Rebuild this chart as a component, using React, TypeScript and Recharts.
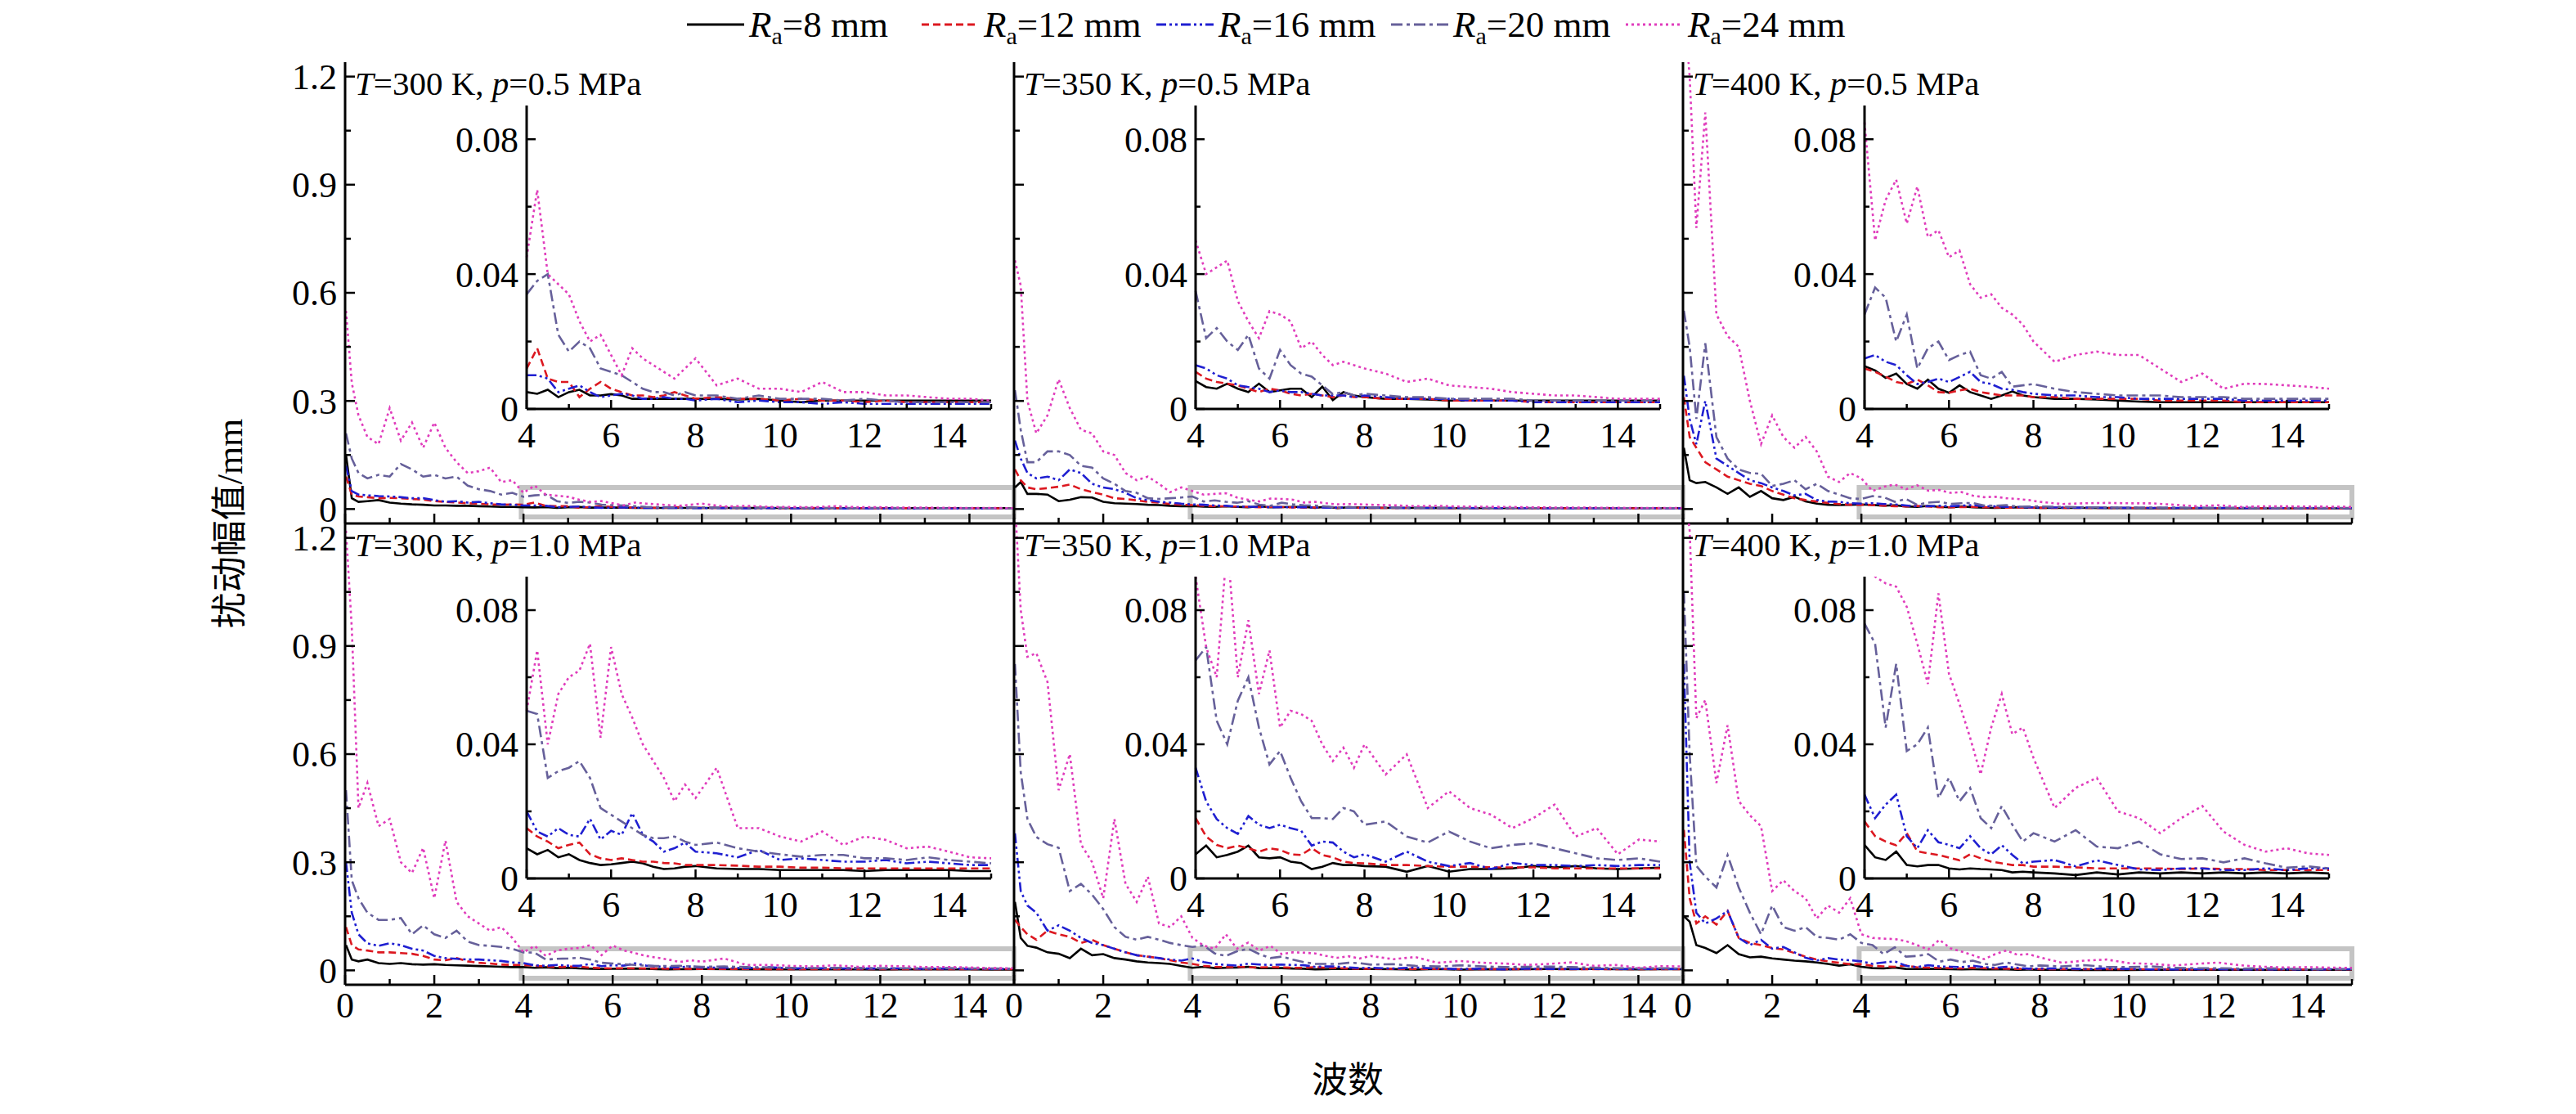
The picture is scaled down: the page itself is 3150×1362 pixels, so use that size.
import React from "react";
import { LineChart, Line, XAxis, YAxis, ReferenceArea } from "recharts";

// wave number grid shared by every curve
const waveNumber = [
  0.02, 0.15, 0.3, 0.5, 0.75, 1, 1.25, 1.5, 1.75, 2, 2.25, 2.5, 2.75, 3, 3.25, 3.5, 3.75,
  4, 4.25, 4.5, 4.75, 5, 5.25, 5.5, 5.75, 6, 6.25, 6.5, 6.75, 7, 7.25, 7.5, 7.75, 8,
  8.5, 9, 9.5, 10, 10.5, 11, 11.5, 12, 12.5, 13, 13.5, 14, 14.5, 15,
];

const roughness = [8, 12, 16, 20, 24];
const temperatures = [300, 350, 400];
const pressures = ["0.5", "1.0"];

const mainXTicks = [0, 1, 2, 3, 4, 5, 6, 7, 8, 9, 10, 11, 12, 13, 14, 15];
const mainYTicks = [0, 0.15, 0.3, 0.45, 0.6, 0.75, 0.9, 1.05, 1.2];
const insetXTicks = [4, 5, 6, 7, 8, 9, 10, 11, 12, 13, 14, 15];
const insetYTicks = [0, 0.02, 0.04, 0.06, 0.08];

// T=300 K, p=0.5 MPa
const t300p05R8 = [0.15, 0.03, 0.02, 0.022, 0.025, 0.018, 0.015, 0.013, 0.012, 0.01, 0.01, 0.009, 0.009, 0.008, 0.007, 0.006, 0.006, 0.005, 0.0045, 0.0057, 0.0035, 0.005, 0.0057, 0.004, 0.004, 0.0044, 0.004, 0.003, 0.003, 0.003, 0.003, 0.003, 0.003, 0.003, 0.003, 0.0028, 0.003, 0.0025, 0.002, 0.0025, 0.0025, 0.0025, 0.0025, 0.0025, 0.0025, 0.0025, 0.0025, 0.0025];
const t300p05R12 = [0.09, 0.04, 0.035, 0.033, 0.03, 0.031, 0.03, 0.028, 0.026, 0.022, 0.02, 0.018, 0.016, 0.015, 0.013, 0.012, 0.013, 0.012, 0.018, 0.009, 0.008, 0.008, 0.0035, 0.006, 0.008, 0.006, 0.005, 0.004, 0.004, 0.0035, 0.004, 0.005, 0.004, 0.003, 0.0035, 0.003, 0.003, 0.0025, 0.003, 0.0025, 0.0025, 0.002, 0.0025, 0.002, 0.002, 0.002, 0.002, 0.002];
const t300p05R16 = [0.12, 0.05, 0.04, 0.038, 0.036, 0.035, 0.033, 0.03, 0.03, 0.025, 0.02, 0.022, 0.018, 0.02, 0.016, 0.013, 0.012, 0.01, 0.01, 0.009, 0.005, 0.006, 0.007, 0.005, 0.0035, 0.004, 0.0045, 0.004, 0.003, 0.003, 0.0035, 0.003, 0.003, 0.0025, 0.003, 0.002, 0.0025, 0.002, 0.002, 0.0015, 0.002, 0.0015, 0.0015, 0.0015, 0.0015, 0.0015, 0.0015, 0.0015];
const t300p05R20 = [0.21, 0.14, 0.1, 0.085, 0.095, 0.09, 0.125, 0.11, 0.09, 0.095, 0.085, 0.09, 0.065, 0.055, 0.05, 0.04, 0.045, 0.034, 0.038, 0.04, 0.022, 0.017, 0.02, 0.018, 0.012, 0.011, 0.01, 0.008, 0.006, 0.005, 0.005, 0.004, 0.005, 0.004, 0.004, 0.003, 0.004, 0.003, 0.003, 0.003, 0.0025, 0.003, 0.0025, 0.002, 0.002, 0.002, 0.002, 0.002];
const t300p05R24 = [0.55, 0.35, 0.26, 0.2, 0.18, 0.28, 0.19, 0.24, 0.17, 0.24, 0.17, 0.13, 0.1, 0.105, 0.115, 0.075, 0.08, 0.045, 0.065, 0.04, 0.037, 0.034, 0.026, 0.02, 0.022, 0.016, 0.01, 0.018, 0.015, 0.013, 0.011, 0.009, 0.012, 0.015, 0.007, 0.009, 0.006, 0.006, 0.005, 0.008, 0.005, 0.005, 0.004, 0.004, 0.0035, 0.003, 0.003, 0.0025];

// T=350 K, p=0.5 MPa
const t350p05R8 = [0.06, 0.075, 0.042, 0.042, 0.04, 0.022, 0.026, 0.033, 0.032, 0.02, 0.016, 0.015, 0.014, 0.012, 0.011, 0.009, 0.008, 0.0083, 0.0065, 0.006, 0.0075, 0.006, 0.005, 0.0075, 0.005, 0.0055, 0.006, 0.006, 0.0035, 0.0066, 0.0026, 0.005, 0.004, 0.0035, 0.003, 0.003, 0.0028, 0.0025, 0.0025, 0.0025, 0.0025, 0.0025, 0.0025, 0.0025, 0.0025, 0.0025, 0.0025, 0.0025];
const t350p05R12 = [0.11, 0.08, 0.06, 0.055, 0.058, 0.062, 0.068, 0.055, 0.047, 0.04, 0.03, 0.028, 0.024, 0.02, 0.018, 0.014, 0.012, 0.011, 0.009, 0.008, 0.0075, 0.007, 0.006, 0.005, 0.006, 0.0055, 0.0045, 0.004, 0.0045, 0.004, 0.0035, 0.004, 0.0035, 0.0035, 0.003, 0.003, 0.003, 0.0025, 0.0025, 0.0025, 0.0025, 0.002, 0.002, 0.002, 0.002, 0.002, 0.002, 0.002];
const t350p05R16 = [0.19, 0.14, 0.1, 0.085, 0.09, 0.08, 0.11, 0.1, 0.07, 0.06, 0.055, 0.045, 0.03, 0.025, 0.02, 0.018, 0.015, 0.013, 0.012, 0.01, 0.009, 0.007, 0.0065, 0.006, 0.005, 0.0055, 0.005, 0.005, 0.0045, 0.004, 0.004, 0.004, 0.0035, 0.004, 0.0035, 0.003, 0.003, 0.003, 0.0025, 0.0025, 0.0025, 0.002, 0.002, 0.002, 0.002, 0.002, 0.002, 0.002];
const t350p05R20 = [0.33, 0.22, 0.13, 0.13, 0.16, 0.16, 0.15, 0.12, 0.115, 0.085, 0.07, 0.05, 0.045, 0.03, 0.028, 0.03, 0.032, 0.035, 0.021, 0.024, 0.02, 0.0175, 0.022, 0.012, 0.009, 0.0175, 0.013, 0.0105, 0.0096, 0.007, 0.0044, 0.005, 0.004, 0.0045, 0.004, 0.0035, 0.0035, 0.003, 0.003, 0.003, 0.003, 0.0025, 0.0025, 0.0025, 0.0025, 0.0025, 0.0025, 0.0025];
const t350p05R24 = [0.69, 0.62, 0.3, 0.21, 0.26, 0.36, 0.28, 0.22, 0.21, 0.16, 0.15, 0.1, 0.08, 0.09, 0.07, 0.047, 0.06, 0.05, 0.04, 0.042, 0.044, 0.032, 0.026, 0.021, 0.029, 0.028, 0.026, 0.018, 0.02, 0.016, 0.013, 0.014, 0.013, 0.012, 0.0105, 0.008, 0.009, 0.007, 0.0065, 0.006, 0.005, 0.0045, 0.004, 0.004, 0.0035, 0.003, 0.003, 0.003];

// T=400 K, p=0.5 MPa
const t400p05R8 = [0.17, 0.08, 0.072, 0.075, 0.06, 0.042, 0.06, 0.034, 0.05, 0.03, 0.025, 0.034, 0.021, 0.015, 0.012, 0.011, 0.012, 0.0127, 0.0114, 0.0092, 0.0105, 0.0074, 0.006, 0.0087, 0.006, 0.0048, 0.007, 0.005, 0.004, 0.003, 0.004, 0.0052, 0.004, 0.0035, 0.003, 0.003, 0.0028, 0.0025, 0.0022, 0.002, 0.002, 0.002, 0.002, 0.002, 0.002, 0.002, 0.002, 0.002];
const t400p05R12 = [0.31, 0.2, 0.17, 0.13, 0.11, 0.09, 0.08, 0.07, 0.064, 0.05, 0.04, 0.03, 0.025, 0.021, 0.017, 0.014, 0.012, 0.012, 0.011, 0.0096, 0.008, 0.0074, 0.0087, 0.007, 0.005, 0.0048, 0.0055, 0.006, 0.005, 0.0045, 0.004, 0.004, 0.004, 0.0035, 0.0035, 0.003, 0.003, 0.003, 0.003, 0.0025, 0.0025, 0.0025, 0.0025, 0.002, 0.002, 0.002, 0.002, 0.002];
const t400p05R16 = [0.37, 0.25, 0.18, 0.3, 0.14, 0.12, 0.1, 0.08, 0.072, 0.06, 0.05, 0.038, 0.042, 0.025, 0.021, 0.02, 0.016, 0.015, 0.016, 0.014, 0.013, 0.01, 0.0074, 0.008, 0.009, 0.008, 0.0095, 0.011, 0.008, 0.0074, 0.006, 0.0057, 0.005, 0.0045, 0.004, 0.004, 0.0035, 0.0035, 0.003, 0.003, 0.003, 0.003, 0.003, 0.0025, 0.0025, 0.0025, 0.0025, 0.0025];
const t400p05R20 = [0.55, 0.45, 0.25, 0.46, 0.2, 0.14, 0.11, 0.1, 0.098, 0.064, 0.07, 0.08, 0.055, 0.07, 0.05, 0.04, 0.03, 0.028, 0.036, 0.033, 0.02, 0.028, 0.012, 0.018, 0.02, 0.0145, 0.016, 0.017, 0.01, 0.009, 0.011, 0.0066, 0.007, 0.0074, 0.006, 0.005, 0.0045, 0.004, 0.004, 0.004, 0.0035, 0.0035, 0.0035, 0.003, 0.003, 0.003, 0.003, 0.003];
const t400p05R24 = [1.4, 1.2, 0.78, 1.1, 0.54, 0.48, 0.45, 0.3, 0.18, 0.26, 0.2, 0.17, 0.2, 0.16, 0.09, 0.075, 0.1, 0.085, 0.05, 0.062, 0.068, 0.055, 0.066, 0.051, 0.053, 0.045, 0.047, 0.037, 0.033, 0.034, 0.03, 0.028, 0.025, 0.02, 0.014, 0.016, 0.017, 0.016, 0.016, 0.012, 0.008, 0.0105, 0.006, 0.0075, 0.0074, 0.007, 0.0066, 0.006];

// T=300 K, p=1.0 MPa
const t300p10R8 = [0.07, 0.03, 0.025, 0.03, 0.02, 0.018, 0.02, 0.017, 0.016, 0.017, 0.015, 0.014, 0.013, 0.012, 0.011, 0.01, 0.009, 0.009, 0.0072, 0.0085, 0.0063, 0.0072, 0.0055, 0.0046, 0.004, 0.0042, 0.0046, 0.005, 0.0045, 0.0035, 0.0028, 0.003, 0.0035, 0.0037, 0.003, 0.0028, 0.0028, 0.0025, 0.0025, 0.0025, 0.0025, 0.0022, 0.0025, 0.0025, 0.0025, 0.0025, 0.0022, 0.0022];
const t300p10R12 = [0.12, 0.07, 0.058, 0.055, 0.05, 0.05, 0.048, 0.046, 0.04, 0.03, 0.028, 0.034, 0.025, 0.021, 0.019, 0.016, 0.015, 0.015, 0.0125, 0.011, 0.009, 0.01, 0.0107, 0.0072, 0.006, 0.0055, 0.006, 0.0055, 0.005, 0.005, 0.0046, 0.0045, 0.004, 0.004, 0.004, 0.0038, 0.0035, 0.0035, 0.0032, 0.0032, 0.003, 0.003, 0.003, 0.003, 0.003, 0.003, 0.003, 0.003];
const t300p10R16 = [0.3, 0.16, 0.1, 0.075, 0.068, 0.075, 0.07, 0.06, 0.055, 0.04, 0.034, 0.032, 0.03, 0.03, 0.028, 0.026, 0.022, 0.02, 0.014, 0.0125, 0.015, 0.013, 0.0125, 0.0178, 0.0116, 0.0142, 0.013, 0.0195, 0.013, 0.011, 0.008, 0.009, 0.0107, 0.008, 0.0075, 0.0063, 0.0085, 0.0055, 0.006, 0.0055, 0.005, 0.005, 0.0055, 0.0045, 0.005, 0.0045, 0.004, 0.004];
const t300p10R20 = [0.5, 0.25, 0.2, 0.16, 0.14, 0.14, 0.145, 0.1, 0.125, 0.1, 0.09, 0.11, 0.08, 0.07, 0.068, 0.065, 0.06, 0.05, 0.049, 0.03, 0.032, 0.033, 0.035, 0.03, 0.021, 0.019, 0.017, 0.015, 0.013, 0.012, 0.012, 0.0125, 0.011, 0.01, 0.0107, 0.009, 0.008, 0.0072, 0.0065, 0.007, 0.007, 0.006, 0.006, 0.0055, 0.0063, 0.0055, 0.005, 0.0045];
const t300p10R24 = [1.22, 0.95, 0.45, 0.52, 0.4, 0.42, 0.3, 0.27, 0.34, 0.2, 0.36, 0.19, 0.15, 0.13, 0.11, 0.12, 0.09, 0.05, 0.068, 0.04, 0.055, 0.06, 0.062, 0.07, 0.042, 0.069, 0.055, 0.048, 0.04, 0.035, 0.03, 0.023, 0.028, 0.024, 0.033, 0.015, 0.015, 0.0125, 0.011, 0.014, 0.01, 0.0125, 0.0115, 0.009, 0.0095, 0.008, 0.0063, 0.006];

// T=350 K, p=1.0 MPa
const t350p10R8 = [0.19, 0.09, 0.068, 0.063, 0.05, 0.046, 0.034, 0.06, 0.042, 0.045, 0.034, 0.03, 0.025, 0.022, 0.02, 0.018, 0.012, 0.0072, 0.0098, 0.0063, 0.007, 0.008, 0.0098, 0.0063, 0.006, 0.0063, 0.005, 0.0046, 0.0028, 0.0035, 0.0046, 0.004, 0.004, 0.0037, 0.0035, 0.002, 0.0037, 0.002, 0.0028, 0.0028, 0.003, 0.0037, 0.0033, 0.0037, 0.003, 0.0028, 0.003, 0.0032];
const t350p10R12 = [0.14, 0.12, 0.1, 0.085, 0.11, 0.1, 0.093, 0.076, 0.085, 0.07, 0.06, 0.05, 0.042, 0.038, 0.034, 0.028, 0.022, 0.018, 0.0125, 0.01, 0.009, 0.0098, 0.009, 0.008, 0.009, 0.0085, 0.0072, 0.007, 0.009, 0.007, 0.0063, 0.005, 0.0046, 0.0045, 0.004, 0.004, 0.0037, 0.0035, 0.0035, 0.0033, 0.0033, 0.0033, 0.003, 0.003, 0.003, 0.003, 0.003, 0.003];
const t350p10R16 = [0.38, 0.22, 0.18, 0.16, 0.11, 0.125, 0.11, 0.09, 0.076, 0.07, 0.06, 0.05, 0.042, 0.038, 0.034, 0.03, 0.027, 0.033, 0.023, 0.0177, 0.015, 0.0133, 0.0186, 0.016, 0.015, 0.016, 0.015, 0.0142, 0.0098, 0.011, 0.0107, 0.008, 0.0063, 0.0072, 0.005, 0.008, 0.005, 0.0037, 0.0046, 0.0028, 0.0046, 0.004, 0.004, 0.0037, 0.004, 0.0037, 0.004, 0.004];
const t350p10R20 = [0.85, 0.55, 0.42, 0.37, 0.35, 0.34, 0.22, 0.24, 0.21, 0.17, 0.12, 0.093, 0.085, 0.093, 0.085, 0.076, 0.07, 0.065, 0.069, 0.047, 0.04, 0.053, 0.06, 0.045, 0.034, 0.038, 0.03, 0.023, 0.018, 0.018, 0.0177, 0.021, 0.02, 0.016, 0.017, 0.0125, 0.0107, 0.014, 0.011, 0.009, 0.01, 0.0105, 0.009, 0.0075, 0.006, 0.0055, 0.006, 0.005];
const t350p10R24 = [1.3, 1.0, 0.87, 0.88, 0.8, 0.5, 0.6, 0.35, 0.3, 0.2, 0.42, 0.24, 0.19, 0.26, 0.13, 0.12, 0.15, 0.09, 0.069, 0.06, 0.1, 0.06, 0.077, 0.055, 0.068, 0.045, 0.05, 0.049, 0.047, 0.04, 0.035, 0.039, 0.033, 0.04, 0.031, 0.037, 0.021, 0.026, 0.021, 0.019, 0.015, 0.018, 0.022, 0.0125, 0.015, 0.0072, 0.0116, 0.011];

// T=400 K, p=1.0 MPa
const t400p10R8 = [0.15, 0.135, 0.07, 0.062, 0.048, 0.07, 0.045, 0.036, 0.038, 0.033, 0.03, 0.027, 0.025, 0.022, 0.018, 0.013, 0.017, 0.01, 0.0063, 0.0055, 0.008, 0.004, 0.0036, 0.004, 0.004, 0.003, 0.0027, 0.003, 0.0028, 0.0027, 0.0025, 0.0018, 0.002, 0.0018, 0.0015, 0.001, 0.0018, 0.0012, 0.0018, 0.0015, 0.0018, 0.0015, 0.0018, 0.0015, 0.0018, 0.0015, 0.0018, 0.0015];
const t400p10R12 = [0.39, 0.2, 0.13, 0.15, 0.127, 0.165, 0.09, 0.076, 0.07, 0.062, 0.058, 0.048, 0.038, 0.03, 0.025, 0.021, 0.017, 0.017, 0.0126, 0.011, 0.0099, 0.0135, 0.0081, 0.0075, 0.007, 0.0062, 0.0054, 0.0072, 0.006, 0.005, 0.0045, 0.004, 0.004, 0.0035, 0.0035, 0.0033, 0.003, 0.003, 0.003, 0.003, 0.0028, 0.003, 0.0028, 0.0028, 0.0025, 0.0025, 0.0025, 0.0025];
const t400p10R16 = [0.85, 0.3, 0.16, 0.13, 0.144, 0.165, 0.09, 0.07, 0.085, 0.06, 0.065, 0.05, 0.035, 0.027, 0.034, 0.03, 0.028, 0.025, 0.018, 0.022, 0.025, 0.0126, 0.009, 0.0144, 0.0108, 0.01, 0.009, 0.0126, 0.009, 0.0072, 0.0099, 0.007, 0.0045, 0.005, 0.0055, 0.0036, 0.0054, 0.004, 0.0027, 0.0025, 0.003, 0.003, 0.0025, 0.0025, 0.003, 0.0025, 0.003, 0.003];
const t400p10R20 = [1.05, 0.6, 0.29, 0.26, 0.23, 0.32, 0.23, 0.16, 0.1, 0.18, 0.12, 0.11, 0.12, 0.093, 0.09, 0.085, 0.1, 0.076, 0.07, 0.045, 0.064, 0.038, 0.04, 0.045, 0.024, 0.03, 0.023, 0.027, 0.018, 0.015, 0.0216, 0.016, 0.011, 0.0135, 0.011, 0.0144, 0.0095, 0.009, 0.011, 0.0072, 0.0058, 0.006, 0.0048, 0.006, 0.0045, 0.0032, 0.0036, 0.003];
const t400p10R24 = [1.35, 1.22, 0.7, 0.75, 0.52, 0.68, 0.47, 0.43, 0.4, 0.22, 0.25, 0.22, 0.2, 0.144, 0.18, 0.16, 0.2, 0.1, 0.09, 0.088, 0.087, 0.081, 0.07, 0.058, 0.085, 0.061, 0.052, 0.042, 0.031, 0.045, 0.055, 0.043, 0.045, 0.036, 0.021, 0.027, 0.03, 0.02, 0.018, 0.0135, 0.018, 0.0216, 0.014, 0.01, 0.008, 0.009, 0.0075, 0.007];

// panels in reading order: row 0 = 0.5 MPa, row 1 = 1.0 MPa
const panelSeries = [
  [t300p05R8, t300p05R12, t300p05R16, t300p05R20, t300p05R24],
  [t350p05R8, t350p05R12, t350p05R16, t350p05R20, t350p05R24],
  [t400p05R8, t400p05R12, t400p05R16, t400p05R20, t400p05R24],
  [t300p10R8, t300p10R12, t300p10R16, t300p10R20, t300p10R24],
  [t350p10R8, t350p10R12, t350p10R16, t350p10R20, t350p10R24],
  [t400p10R8, t400p10R12, t400p10R16, t400p10R20, t400p10R24],
];

const KEYS = ["r8", "r12", "r16", "r20", "r24"];
const LINE_STYLE = [
  { color: "#000000", dash: undefined },
  { color: "#dc1820", dash: "9 5" },
  { color: "#1f1fd1", dash: "12 4 3 4 3 4" },
  { color: "#66609a", dash: "14 5 4 5" },
  { color: "#e03cbc", dash: "3 4" },
];

const SERIF = '"Liberation Serif", "Times New Roman", serif';
const CJK = '"Liberation Serif", "Noto Sans CJK SC", sans-serif';
const FS = 44; // tick labels
const TITLE_FS = 41;

// layout (px)
const COL_LEFT = [422, 1240, 2058];
const ROW_TOP = [76, 640];
const PW = 818;
const PH = 564;
const INSET_DX = 222;
const INSET_TOP = [129, 705];
const INSET_H = [371, 369];
const IW = 568;

function buildRows(series: number[][]) {
  return waveNumber.map((x, i) => {
    const row: any = { x };
    KEYS.forEach((k, s) => (row[k] = series[s][i]));
    return row;
  });
}

const AXIS_LINE = { stroke: "#000", strokeWidth: 3 };

function MainXTick(props: any) {
  const { x, y, payload, showLabel } = props;
  const v = payload.value;
  const major = v % 2 === 0;
  return (
    <g>
      <line x1={x} x2={x} y1={y} y2={y - (major ? 12 : 7)} stroke="#000" strokeWidth={2.5} />
      {showLabel && major && v <= 14 && (
        <text x={x} y={y + 40} textAnchor="middle" fontSize={FS} fontFamily={SERIF} fill="#000">
          {v}
        </text>
      )}
    </g>
  );
}

function MainYTick(props: any) {
  const { x, y, payload, showLabel } = props;
  const v = payload.value;
  const major = Math.round(v / 0.15) % 2 === 0;
  return (
    <g>
      <line x1={x} x2={x + (major ? 12 : 7)} y1={y} y2={y} stroke="#000" strokeWidth={2.5} />
      {showLabel && major && (
        <text x={x - 10} y={y} dy="0.35em" textAnchor="end" fontSize={FS} fontFamily={SERIF} fill="#000">
          {v === 0 ? "0" : v.toFixed(1)}
        </text>
      )}
    </g>
  );
}

function InsetXTick(props: any) {
  const { x, y, payload } = props;
  const v = payload.value;
  const major = v % 2 === 0;
  return (
    <g>
      <line x1={x} x2={x} y1={y} y2={y - (major ? 11 : 6)} stroke="#000" strokeWidth={2.5} />
      {major && v <= 14 && (
        <text x={x} y={y + 47} textAnchor="middle" fontSize={FS} fontFamily={SERIF} fill="#000">
          {v}
        </text>
      )}
    </g>
  );
}

function InsetYTick(props: any) {
  const { x, y, payload } = props;
  const v = payload.value;
  const major = Math.round(v / 0.02) % 2 === 0;
  return (
    <g>
      <line x1={x} x2={x + (major ? 11 : 6)} y1={y} y2={y} stroke="#000" strokeWidth={2.5} />
      {major && (
        <text x={x - 10} y={y} dy="0.35em" textAnchor="end" fontSize={FS} fontFamily={SERIF} fill="#000">
          {v === 0 ? "0" : v.toFixed(2)}
        </text>
      )}
    </g>
  );
}

function seriesLines() {
  return KEYS.map((k, i) => (
    <Line
      key={k}
      type="linear"
      dataKey={k}
      stroke={LINE_STYLE[i].color}
      strokeWidth={2.6}
      strokeDasharray={LINE_STYLE[i].dash}
      dot={false}
      activeDot={false}
      isAnimationActive={false}
    />
  ));
}

function MainPanel({ index }: { index: number }) {
  const col = index % 3;
  const row = Math.floor(index / 3);
  const ML = 110;
  const MT = 10;
  const MR = 10;
  const MB = 70;
  const data = buildRows(panelSeries[index]);
  return (
    <div style={{ position: "absolute", left: COL_LEFT[col] - ML, top: ROW_TOP[row] - MT }}>
      <LineChart width={PW + ML + MR} height={PH + MT + MB} data={data} margin={{ top: MT, right: MR, left: 0, bottom: 0 }}>
        <XAxis
          dataKey="x"
          type="number"
          domain={[0, 15]}
          ticks={mainXTicks}
          interval={0}
          height={MB}
          tickSize={0}
          tickMargin={0}
          tickLine={false}
          axisLine={AXIS_LINE}
          tick={(p: any) => <MainXTick {...p} showLabel={row === 1} />}
        />
        <XAxis xAxisId="top" orientation="top" dataKey="x" type="number" domain={[0, 15]} height={0} tick={false} tickLine={false} axisLine={AXIS_LINE} />
        <YAxis
          type="number"
          domain={[-0.04, 1.24]}
          allowDataOverflow
          ticks={mainYTicks}
          interval={0}
          width={ML}
          tickSize={0}
          tickMargin={0}
          tickLine={false}
          axisLine={AXIS_LINE}
          tick={(p: any) => <MainYTick {...p} showLabel={col === 0} />}
        />
        <YAxis yAxisId="right" orientation="right" type="number" domain={[-0.04, 1.24]} width={0} tick={false} tickLine={false} axisLine={AXIS_LINE} />
        <ReferenceArea x1={3.95} x2={15} y1={-0.022} y2={0.06} fill="none" stroke="#c4c4c4" strokeWidth={6} />
        {seriesLines()}
      </LineChart>
    </div>
  );
}

function InsetPanel({ index }: { index: number }) {
  const col = index % 3;
  const row = Math.floor(index / 3);
  const left = COL_LEFT[col] + INSET_DX;
  const top = INSET_TOP[row];
  const IH = INSET_H[row];
  const ML = 110;
  const MT = 5;
  const MR = 5;
  const MB = 70;
  const data = buildRows(panelSeries[index]).filter((d) => d.x >= 4);
  return (
    <div style={{ position: "absolute", left: left - ML, top: top - MT }}>
      <LineChart width={IW + ML + MR} height={IH + MT + MB} data={data} margin={{ top: MT, right: MR, left: 0, bottom: 0 }}>
        <XAxis
          dataKey="x"
          type="number"
          domain={[4, 15]}
          ticks={insetXTicks}
          interval={0}
          height={MB}
          tickSize={0}
          tickMargin={0}
          tickLine={false}
          axisLine={AXIS_LINE}
          tick={(p: any) => <InsetXTick {...p} />}
        />
        <XAxis xAxisId="top" orientation="top" dataKey="x" type="number" domain={[4, 15]} height={0} tick={false} tickLine={false} axisLine={AXIS_LINE} />
        <YAxis
          type="number"
          domain={[0, 0.09]}
          allowDataOverflow
          ticks={insetYTicks}
          interval={0}
          width={ML}
          tickSize={0}
          tickMargin={0}
          tickLine={false}
          axisLine={AXIS_LINE}
          tick={(p: any) => <InsetYTick {...p} />}
        />
        <YAxis yAxisId="right" orientation="right" type="number" domain={[0, 0.09]} width={0} tick={false} tickLine={false} axisLine={AXIS_LINE} />
        {seriesLines()}
      </LineChart>
    </div>
  );
}

function Labels() {
  const legendStart = 840;
  const legendStep = 287;
  return (
    <svg width={3150} height={1362} style={{ position: "absolute", left: 0, top: 0, pointerEvents: "none" }}>
      {/* legend */}
      {roughness.map((r, i) => {
        const x0 = legendStart + i * legendStep;
        return (
          <g key={r}>
            <line x1={x0} x2={x0 + 70} y1={30} y2={30} stroke={LINE_STYLE[i].color} strokeWidth={3} strokeDasharray={LINE_STYLE[i].dash} />
            <text x={x0 + 76} y={45} fontSize={45} fontFamily={SERIF} fill="#000">
              <tspan fontStyle="italic">R</tspan>
              <tspan fontSize={30} dy={9}>a</tspan>
              <tspan dy={-9}>={r} mm</tspan>
            </text>
          </g>
        );
      })}
      {/* panel titles */}
      {pressures.map((p, row) =>
        temperatures.map((t, col) => (
          <text key={`${row}-${col}`} x={COL_LEFT[col] + 12} y={ROW_TOP[row] + 40} fontSize={TITLE_FS} fontFamily={SERIF} fill="#000">
            <tspan fontStyle="italic">T</tspan>={t} K, <tspan fontStyle="italic">p</tspan>={p} MPa
          </text>
        ))
      )}
      {/* axis titles */}
      <text x={1648} y={1336} textAnchor="middle" fontSize={FS} fontFamily={CJK} fill="#000">
        波数
      </text>
      <text
        x={0}
        y={0}
        transform="translate(296 640) rotate(-90)"
        textAnchor="middle"
        fontSize={FS}
        fontFamily={CJK}
        fill="#000"
      >
        扰动幅值/mm
      </text>
    </svg>
  );
}

export default function App() {
  return (
    <div style={{ position: "absolute", left: 0, top: 0, width: 3150, height: 1362, background: "#ffffff", overflow: "hidden" }}>
      {[0, 1, 2, 3, 4, 5].map((i) => (
        <MainPanel key={`m${i}`} index={i} />
      ))}
      {[0, 1, 2, 3, 4, 5].map((i) => (
        <InsetPanel key={`i${i}`} index={i} />
      ))}
      <Labels />
    </div>
  );
}
